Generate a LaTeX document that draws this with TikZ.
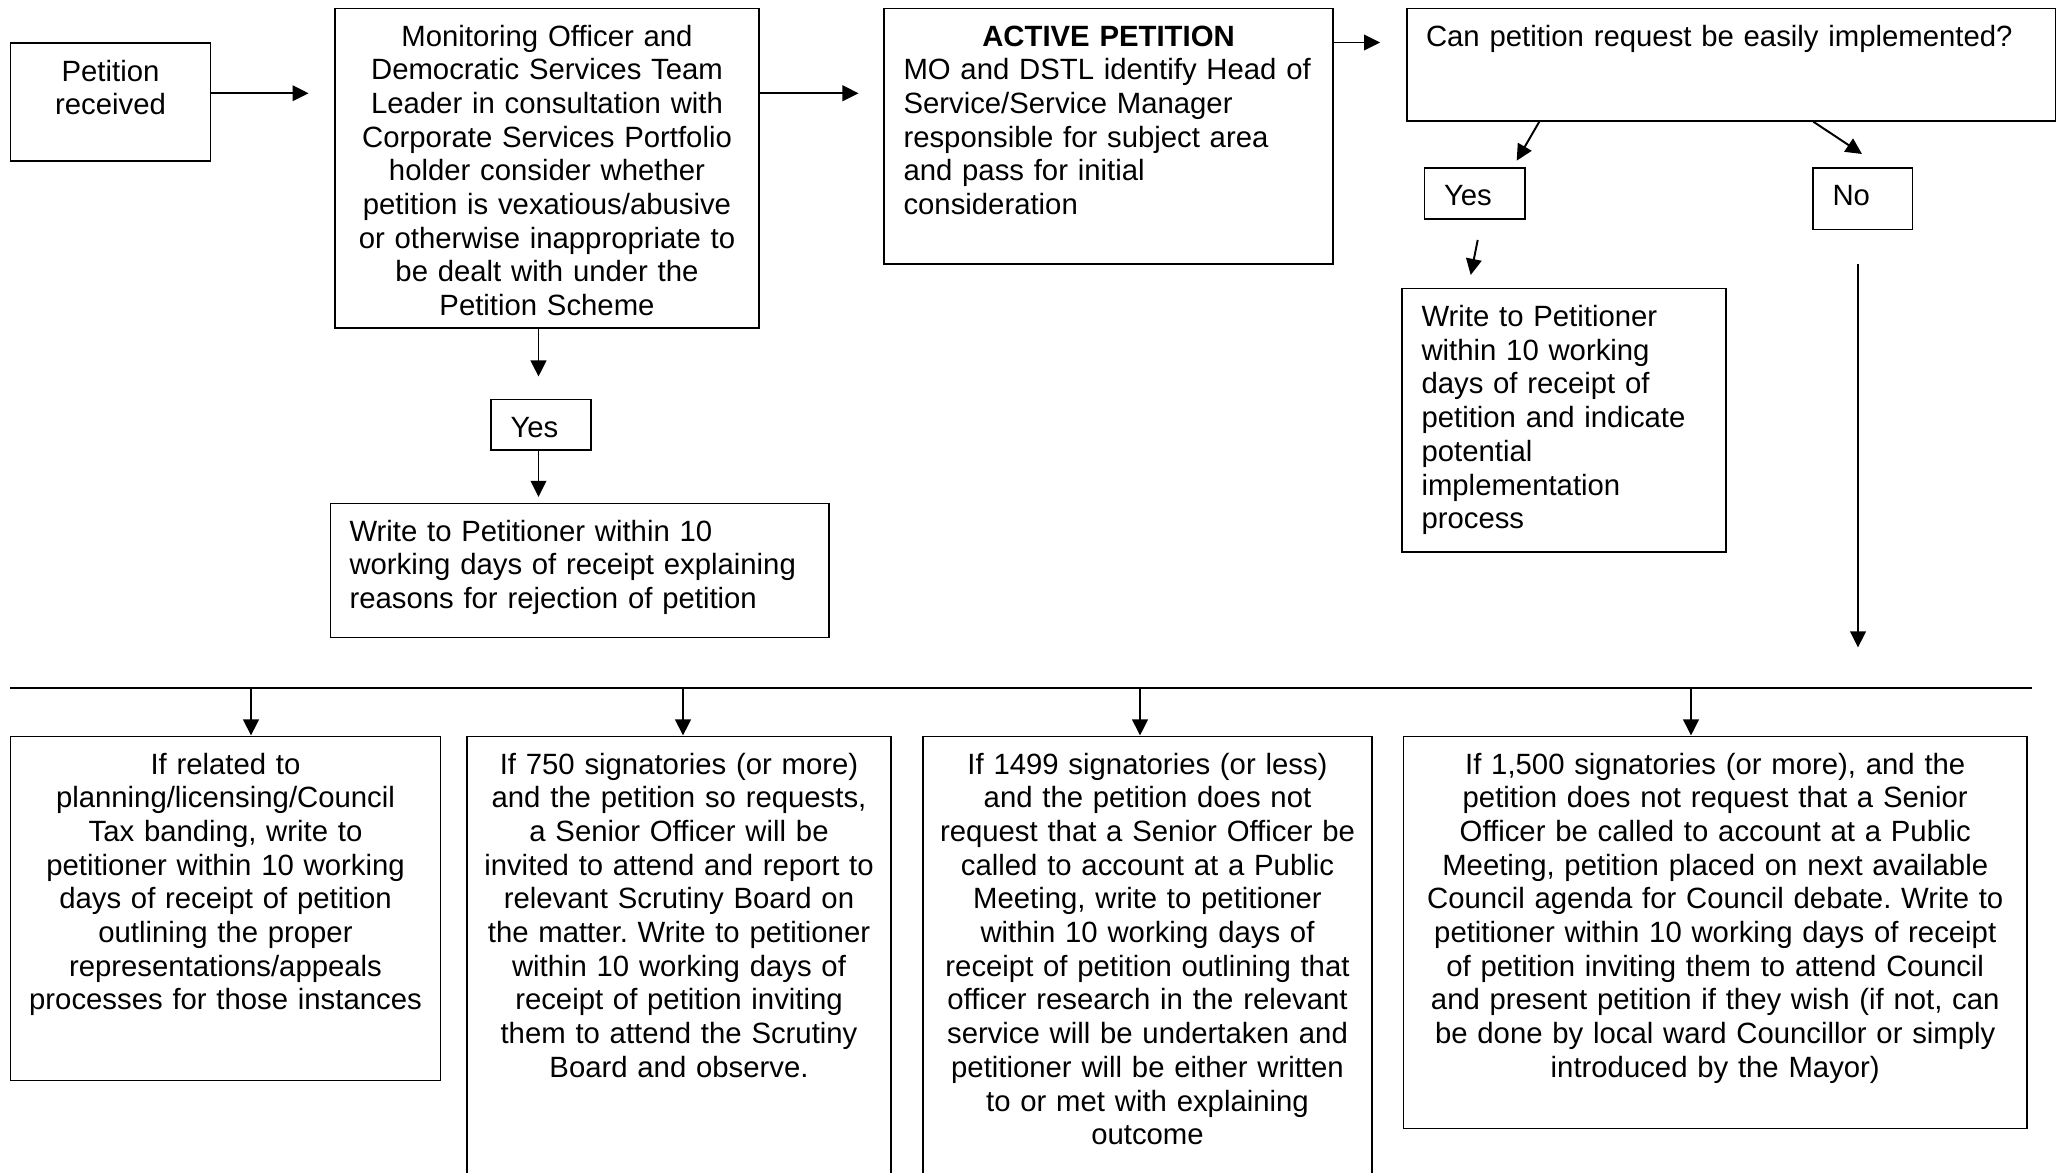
\documentclass[tikz,border=0pt]{standalone}
\usepackage{fontspec}
\setmainfont{Liberation Sans}
\usetikzlibrary{calc}
\usetikzlibrary{fit}
\usetikzlibrary{arrows.meta}
\frenchspacing
\tikzset{every node/.style={font=\fontsize{12}{13.8}\selectfont}}
\tikzset{
  box/.style={draw, line width=0.8pt, inner sep=0pt},
  txt/.style={text width=250pt, align=center, anchor=base, inner sep=0pt},
  txtl/.style={text width=250pt, align=left, anchor=base west, inner sep=0pt},
  arr/.style={line width=0.8pt, -{Triangle[length=6.6pt, width=6.4pt]}},
  bar/.style={line width=0.8pt}
}

\begin{document}
\begin{tikzpicture}[x=0.4094pt, y=-0.4094pt]

\useasboundingbox (0,0) rectangle (2057,1173);
\clip (0,0) rectangle (2057,1173);

% 上排的框
\node[box, fit={(10.5,43) (210.5,161)}] (recv) {};
\node[box, fit={(335,8.5) (759,328)}] (mon) {};
\node[box, fit={(884,8.5) (1333,264)}] (active) {};
\node[box, fit={(1407,8.5) (2055.5,120.7)}] (can) {};
\node[box, fit={(1424.5,168.3) (1525,219)}] (yesR) {};
\node[box, fit={(1813,168) (1912.5,229.5)}] (noR) {};
\node[box, fit={(1402,288.5) (1726,552)}] (writeR) {};
\node[box, fit={(491,399.5) (591,450)}] (yesL) {};
\node[box, fit={(330.5,503.5) (829,637.5)}] (writeL) {};

% 下排的框
\node[box, fit={(10.5,736.5) (440.5,1080.5)}] (boxA) {};
\node[box, fit={(467,736.5) (891,1190)}] (boxB) {};
\node[box, fit={(923,736.5) (1372,1190)}] (boxC) {};
\node[box, fit={(1403.5,736.5) (2027,1128.5)}] (boxD) {};

% 文字
\node[txt] (recvT) at ($(recv.north)+(0,39)$) {Petition\\received};
\node[txt] (monT) at ($(mon.north)+(0,38.5)$) {Monitoring Officer and\\Democratic Services Team\\Leader in consultation with\\Corporate Services Portfolio\\holder consider whether\\petition is vexatious/abusive\\or otherwise inappropriate to\\be dealt with under the\\Petition Scheme};
\node[txt] (activeH) at ($(active.north)+(0,38.5)$) {\textbf{ACTIVE PETITION}};
\node[txtl] (activeT) at ($(active.north west)+(20,72.3)$) {MO and DSTL identify Head of\\Service/Service Manager\\responsible for subject area\\and pass for initial\\consideration};
\node[txtl] (canT) at ($(can.north west)+(19.5,38.5)$) {Can petition request be easily implemented?};
\node[txtl] (yesRT) at ($(yesR.north west)+(20,38.5)$) {Yes};
\node[txtl] (noRT) at ($(noR.north west)+(20,38.5)$) {No};
\node[txtl] (writeRT) at ($(writeR.north west)+(20,39)$) {Write to Petitioner\\within 10 working\\days of receipt of\\petition and indicate\\potential\\implementation\\process};
\node[txtl] (yesLT) at ($(yesL.north west)+(20,39)$) {Yes};
\node[txtl] (writeLT) at ($(writeL.north west)+(19.5,38.5)$) {Write to Petitioner within 10\\working days of receipt explaining\\reasons for rejection of petition};

\node[txt] (boxAT) at ($(boxA.north)+(0,38.5)$) {If related to\\planning/licensing/Council\\Tax banding, write to\\petitioner within 10 working\\days of receipt of petition\\outlining the proper\\representations/appeals\\processes for those instances};
\node[txt] (boxBT) at ($(boxB.north)+(0,38.5)$) {If 750 signatories (or more)\\and the petition so requests,\\a Senior Officer will be\\invited to attend and report to\\relevant Scrutiny Board on\\the matter. Write to petitioner\\within 10 working days of\\receipt of petition inviting\\them to attend the Scrutiny\\Board and observe.};
\node[txt] (boxCT) at ($(boxC.north)+(0,38.5)$) {If 1499 signatories (or less)\\and the petition does not\\request that a Senior Officer be\\called to account at a Public\\Meeting, write to petitioner\\within 10 working days of\\receipt of petition outlining that\\officer research in the relevant\\service will be undertaken and\\petitioner will be either written\\to or met with explaining\\outcome};
\node[txt] (boxDT) at ($(boxD.north)+(0,38.5)$) {If 1,500 signatories (or more), and the\\petition does not request that a Senior\\Officer be called to account at a Public\\Meeting, petition placed on next available\\Council agenda for Council debate. Write to\\petitioner within 10 working days of receipt\\of petition inviting them to attend Council\\and present petition if they wish (if not, can\\be done by local ward Councillor or simply\\introduced by the Mayor)};

% 定义点
\coordinate (row1) at (0,93.3);
\coordinate (row2) at (0,42.5);
\coordinate (colL) at (538.5,0);
\coordinate (canYes) at (can.south -| 1539.3,0);
\coordinate (yesTip) at (1516.7,160.7);
\coordinate (canNo) at (can.south -| 1813.3,0);
\coordinate (noTip) at (1862,154);
\coordinate (yesOut) at (1477.7,240);
\coordinate (yesIn) at (1470.7,275);
\coordinate (noOut) at (1858,264);
\coordinate (noIn) at (1858,647.5);
\coordinate (bus) at (0,688);
\coordinate (busL) at (10,688);
\coordinate (busR) at (2031.5,688);

% 箭头
\draw[arr, shorten >=10.4pt] (recv.east |- row1) -- (mon.west |- row1);
\draw[arr, shorten >=10pt] (mon.east |- row1) -- (active.west |- row1);
\draw[arr, shorten >=10.6pt] (active.east |- row2) -- (can.west |- row2);
\draw[arr, shorten >=9pt] (mon.south -| colL) -- (yesL.north -| colL);
\draw[arr, shorten >=2.3pt] (yesL.south -| colL) -- (writeL.north -| colL);

\draw[arr] (canYes) -- (yesTip);
\draw[arr] (canNo) -- (noTip);
\draw[arr] (yesOut) -- (yesIn);
\draw[arr] (noOut) -- (noIn);

\draw[bar] (busL) -- (busR);
\foreach \xx/\bx in {251/boxA, 683/boxB, 1140/boxC, 1691/boxD}
  \draw[arr] (bus -| \xx,0) -- (\bx.north -| \xx,0);

\end{tikzpicture}
\end{document}
